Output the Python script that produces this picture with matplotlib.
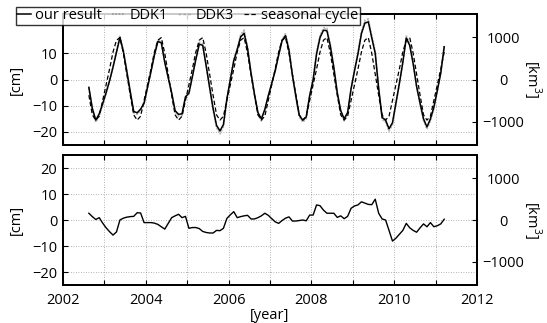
import matplotlib
matplotlib.use("Agg")
import matplotlib.pyplot as plt
import numpy as np

plt.rcParams['font.family'] = ['Open Sans', 'DejaVu Sans']
plt.rcParams['mathtext.fontset'] = 'custom'
plt.rcParams['mathtext.rm'] = 'Open Sans'

# monthly epochs Aug 2002 .. Mar 2011 (decimal year, mid-month)
start_year = 2002
start_month = 8
n_months = 104

our_result = [
    -3.0, -11.0, -15.5, -13.1, -9.2,
    -5.0, -0.5, 4.7, 10.4, 16.0, 10.7, 3.1, -4.7, -12.2, -12.7, -11.3, -9.0,
    -3.0, 3.0, 9.3, 14.5, 14.0, 6.5, 0.7, -5.1, -11.9, -13.3, -13.1, -6.6,
    -5.2, 1.1, 7.6, 13.5, 13.0, 5.2, -3.0, -11.0, -17.5, -19.6, -17.2, -7.4,
    0.0, 7.2, 11.4, 16.3, 17.6, 11.8, 2.4, -5.6, -12.6, -15.0, -11.4, -6.2,
    -1.5, 3.3, 9.2, 14.8, 16.7, 11.2, 1.6, -6.4, -13.7, -15.5, -14.3, -6.1,
    -0.1, 9.8, 16.0, 18.8, 18.6, 12.6, 4.6, -5.0, -11.9, -15.0, -12.6, -3.5,
    3.4, 9.8, 17.5, 21.5, 22.0, 15.9, 10.0, -3.4, -14.5, -15.5, -18.8, -16.5,
    -9.0, -1.5, 6.5, 15.8, 13.0, 6.0, -2.7, -9.0, -15.0, -18.1, -15.0, -10.6,
    -4.2, 2.5, 12.5,
]

ddk1 = [
    -3.2, -11.6, -16.3, -13.8, -9.7,
    -5.3, -0.4, 4.9, 10.9, 16.8, 11.2, 3.3, -4.9, -12.8, -13.3, -11.9, -9.5,
    -3.2, 3.2, 9.8, 15.2, 14.7, 6.8, 0.7, -5.4, -12.5, -14.0, -13.8, -6.9,
    -5.5, 1.2, 8.0, 14.2, 13.7, 5.5, -3.2, -11.6, -18.4, -20.8, -18.1, -7.8,
    0.1, 7.6, 12.0, 17.1, 18.9, 12.4, 2.5, -5.9, -13.2, -15.8, -12.0, -6.5,
    -1.6, 3.5, 9.7, 15.5, 17.5, 11.8, 1.7, -6.7, -14.4, -16.3, -15.0, -6.4,
    -0.1, 10.3, 16.8, 19.7, 19.5, 13.2, 4.8, -5.3, -12.5, -15.8, -13.2, -3.7,
    3.6, 10.3, 18.4, 22.6, 23.1, 16.7, 10.5, -3.6, -15.2, -16.3, -19.7, -17.3,
    -9.5, -1.6, 6.8, 16.6, 13.7, 6.3, -2.8, -9.5, -15.8, -19.0, -15.8, -11.1,
    -4.4, 2.6, 13.1,
]

ddk3 = [
    -3.0, -11.4, -16.0, -13.4, -9.4,
    -5.1, -0.6, 4.9, 10.7, 16.5, 11.0, 3.2, -4.8, -12.6, -13.1, -11.6, -9.3,
    -3.1, 3.1, 9.6, 14.9, 14.4, 6.7, 0.7, -5.3, -12.3, -13.7, -13.5, -6.8,
    -5.4, 1.1, 7.8, 13.9, 13.4, 5.4, -3.1, -11.3, -18.0, -20.3, -17.7, -7.6,
    -0.1, 7.4, 11.7, 16.8, 18.4, 12.2, 2.5, -5.8, -13.0, -15.5, -11.7, -6.4,
    -1.5, 3.4, 9.5, 15.2, 17.2, 11.5, 1.6, -6.6, -14.1, -16.0, -14.7, -6.3,
    -0.1, 10.1, 16.5, 19.4, 19.2, 13.0, 4.7, -5.2, -12.3, -15.5, -13.0, -3.6,
    3.5, 10.1, 18.0, 22.1, 22.7, 16.4, 10.3, -3.5, -14.9, -16.0, -19.4, -17.0,
    -9.3, -1.5, 6.7, 16.3, 13.4, 6.2, -2.8, -9.3, -15.5, -18.6, -15.5, -10.9,
    -4.3, 2.6, 12.9,
]

seasonal_cycle = [
    -6.0, -13.5, -15.5, -14.0, -8.0,
    -2.0, 4.0, 10.5, 15.0, 16.0, 10.0, 2.0, -6.0, -13.5, -15.5, -14.0, -8.0,
    -2.0, 4.0, 10.5, 15.0, 16.0, 10.0, 2.0, -6.0, -13.5, -15.5, -14.0, -8.0,
    -2.0, 4.0, 10.5, 15.0, 16.0, 10.0, 2.0, -6.0, -13.5, -15.5, -14.0, -8.0,
    -2.0, 4.0, 10.5, 15.0, 16.0, 10.0, 2.0, -6.0, -13.5, -15.5, -14.0, -8.0,
    -2.0, 4.0, 10.5, 15.0, 16.0, 10.0, 2.0, -6.0, -13.5, -15.5, -14.0, -8.0,
    -2.0, 4.0, 10.5, 15.0, 16.0, 10.0, 2.0, -6.0, -13.5, -15.5, -14.0, -8.0,
    -2.0, 4.0, 10.5, 15.0, 16.0, 10.0, 2.0, -6.0, -13.5, -15.5, -14.0, -8.0,
    -2.0, 4.0, 10.5, 15.0, 16.0, 10.0, 2.0, -6.0, -13.5, -15.5, -14.0, -8.0,
    -2.0, 4.0, 10.5,
]

residual = [
    2.6, 1.3, 0.2, 0.9, -1.2,
    -3.0, -4.5, -5.8, -4.6, 0.0, 0.7, 1.1, 1.3, 1.4, 2.8, 2.7, -1.0,
    -1.0, -1.0, -1.2, -1.7, -2.6, -3.5, -1.3, 0.9, 1.6, 2.2, 0.9, 1.4,
    -3.2, -2.9, -2.9, -3.3, -4.4, -4.8, -5.0, -5.0, -4.0, -4.1, -3.2, 0.6,
    2.0, 3.2, 0.9, 1.3, 1.6, 1.8, 0.4, 0.4, 0.9, 1.6, 2.6, 1.8,
    0.5, -0.7, -1.3, -0.2, 0.7, 1.2, -0.4, -0.4, -0.2, 0.0, -0.3, 1.9,
    1.9, 5.8, 5.5, 3.8, 2.6, 2.6, 2.6, 1.0, 1.6, 0.5, 1.4, 4.5,
    5.4, 5.8, 7.0, 6.5, 6.0, 5.9, 8.0, 2.6, 0.4, 0.0, -4.0, -8.1,
    -7.0, -5.5, -4.0, -1.3, -3.0, -4.0, -4.7, -3.0, -1.5, -2.6, -1.0, -2.6,
    -2.2, -1.5, 0.3,
]

x_ticks = [2002, 2003, 2004, 2005, 2006, 2007, 2008, 2009, 2010, 2011, 2012]
x_ticklabels = ['2002', '', '2004', '', '2006', '', '2008', '', '2010', '', '2012']
top_yticks = [-20, -10, 0, 10]
bot_yticks = [-20, -10, 0, 10, 20]
km3_ticks = [-1000, 0, 1000]
km3_per_cm = 62.1

t = start_year + (start_month - 1 + 0.5 + np.arange(n_months)) / 12.0

W, H = 547, 323
fig = plt.figure(figsize=(W / 100, H / 100), dpi=100)
ax1 = fig.add_axes([63 / W, 1 - 145 / H, 414 / W, 131 / H])
ax2 = fig.add_axes([63 / W, 1 - 285 / H, 414 / W, 130 / H])

fs = 10.5
grid_kw = dict(color='#9a9a9a', linestyle=(0, (1, 2)), linewidth=0.6)

l_ddk1, = ax1.plot(t, ddk1, color='#b0b0b0', linestyle=(0, (1, 1)), lw=1.2, zorder=2)
l_ddk3, = ax1.plot(t, ddk3, color='#bcbcbc', linestyle=(0, (2, 1.5)), lw=1.0, zorder=2)
l_our, = ax1.plot(t, our_result, color='black', lw=1.1, zorder=4)
l_seas, = ax1.plot(t, seasonal_cycle, color='black', lw=0.9, linestyle=(0, (3.5, 2)), zorder=3)

ax2.plot(t, residual, color='black', lw=1.0, zorder=4)

for ax, yt in ((ax1, top_yticks), (ax2, bot_yticks)):
    ax.set_xlim(2002, 2012)
    ax.set_ylim(-25, 25)
    ax.set_yticks(yt)
    ax.set_xticks(x_ticks)
    ax.grid(True, **grid_kw)
    ax.set_axisbelow(True)
    ax.tick_params(direction='in', length=3.5, width=0.8, top=True, right=False,
                   labelsize=fs, pad=4)
    for s in ax.spines.values():
        s.set_linewidth(1.3)
    ax.set_ylabel('[cm]', fontsize=fs, labelpad=6)
    axr = ax.twinx()
    axr.set_ylim(-25 * km3_per_cm, 25 * km3_per_cm)
    axr.set_yticks(km3_ticks)
    axr.tick_params(direction='in', length=3.5, width=0.8, labelsize=fs, pad=19)
    for lab in axr.get_yticklabels():
        lab.set_horizontalalignment('center')
    axr.set_ylabel('[km$^3$]', fontsize=fs, rotation=-90, labelpad=14)
    for s in axr.spines.values():
        s.set_linewidth(1.3)

ax1.set_xticklabels([])
ax2.set_xticklabels(x_ticklabels)
ax2.tick_params(axis='x', pad=6)
ax2.set_xlabel('[year]', fontsize=fs, labelpad=0)
ax1.set_yticklabels([str(v).replace('-', '\u2212') for v in top_yticks])

h_ddk1 = plt.Line2D([], [], color='#999999', linestyle=(0, (1, 1)), lw=1.2)
h_ddk3 = plt.Line2D([], [], color='#a8a8a8', linestyle=(0, (2, 1.5)), lw=1.0)
leg = fig.legend([l_our, h_ddk1, h_ddk3, l_seas],
                 ['our result', 'DDK1', 'DDK3', 'seasonal cycle'],
                 loc='upper left', bbox_to_anchor=(16 / W, 1 - 7 / H),
                 ncol=4, fontsize=fs, frameon=True, fancybox=False,
                 handlelength=0.9, handletextpad=0.3, columnspacing=0.7,
                 borderpad=0.1, borderaxespad=0)
leg.get_frame().set_edgecolor('black')
leg.get_frame().set_linewidth(1.0)
leg.set_zorder(10)

fig.savefig('out.png', dpi=100)
